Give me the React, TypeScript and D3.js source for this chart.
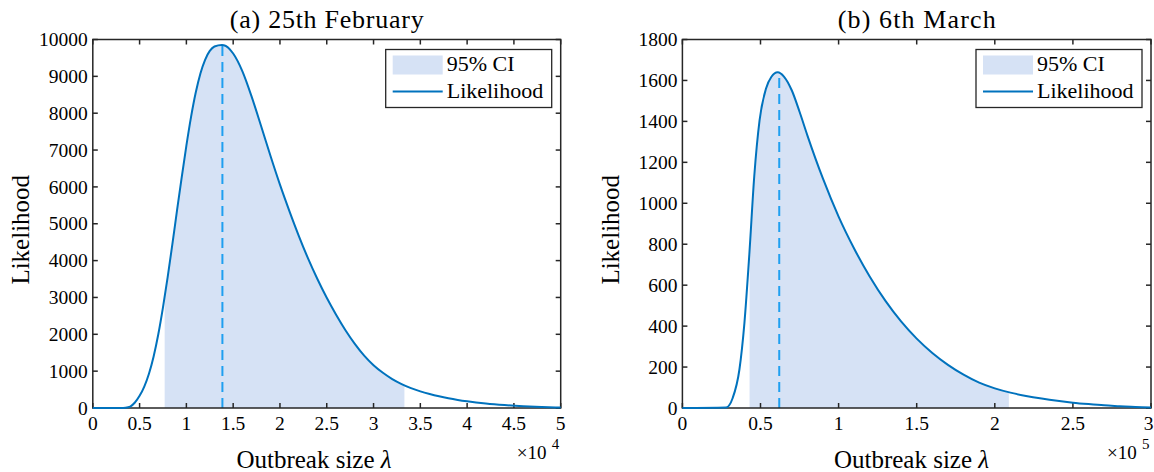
import React from "react";
import * as d3 from "d3";

// ---------- Data ----------
// Panel (a): outbreak size λ in units of 10^4
const leftLambda = [0, 0.3, 0.35, 0.4, 0.45, 0.5, 0.55, 0.6, 0.65, 0.7, 0.75, 0.8, 0.85, 0.9, 0.95, 1.0, 1.05, 1.1, 1.15, 1.2, 1.25, 1.3, 1.38, 1.4, 1.5, 1.6, 1.7, 1.8, 1.9, 2.0, 2.1, 2.2, 2.3, 2.4, 2.5, 2.6, 2.7, 2.8, 2.9, 3.0, 3.1, 3.2, 3.3, 3.4, 3.5, 3.6, 3.7, 3.8, 3.9, 4.0, 4.2, 4.4, 4.6, 4.8, 5.0];
const leftLikelihood = [0, 0, 8, 40, 150, 330, 580, 930, 1400, 2000, 2730, 3550, 4440, 5360, 6260, 7120, 7900, 8560, 9080, 9450, 9690, 9810, 9850, 9845, 9620, 9130, 8430, 7640, 6830, 6060, 5350, 4680, 4060, 3500, 2990, 2530, 2110, 1740, 1420, 1160, 955, 785, 650, 540, 452, 380, 318, 265, 220, 182, 122, 80, 50, 28, 12];
const leftCI = [0.768, 3.33];
const leftMLE = 1.385;
const leftXTicks = [0, 0.5, 1, 1.5, 2, 2.5, 3, 3.5, 4, 4.5, 5];
const leftYTicks = [0, 1000, 2000, 3000, 4000, 5000, 6000, 7000, 8000, 9000, 10000];

// Panel (b): outbreak size λ in units of 10^5
const rightLambda = [0, 0.28, 0.322, 0.365, 0.397, 0.429, 0.46, 0.494, 0.536, 0.57, 0.61, 0.65, 0.7, 0.75, 0.8, 0.9, 1.0, 1.1, 1.2, 1.3, 1.4, 1.5, 1.6, 1.7, 1.8, 1.9, 2.0, 2.1, 2.2, 2.3, 2.4, 2.5, 2.6, 2.7, 2.8, 2.9, 3.0];
const rightLikelihood = [0, 3, 49, 188, 415, 757, 1132, 1405, 1562, 1618, 1640, 1619, 1552, 1447, 1332, 1120, 935, 778, 641, 523, 423, 339, 269, 211, 163, 124, 96, 75, 59, 46, 35, 26, 19, 13, 9, 5, 3];
const rightCI = [0.43, 2.09];
const rightMLE = 0.62;
const rightXTicks = [0, 0.5, 1, 1.5, 2, 2.5, 3];
const rightYTicks = [0, 200, 400, 600, 800, 1000, 1200, 1400, 1600, 1800];

const legendLabels = ["95% CI", "Likelihood"];

// ---------- Styles ----------
const FONT = "'Liberation Serif', 'Times New Roman', serif";
const LINE = "#0072BD";
const FILL = "#d6e2f5";
const DASH = "#1f9ff0";
const AXIS = "#262626";
const W = 1154;

type PanelProps = {
  id: string;
  x0: number; x1: number; y0: number; y1: number;
  xs: number[]; ys: number[];
  ci: number[]; mle: number;
  xTicks: number[]; yTicks: number[];
  title: string; titleWidth: number; exponent: string;
  xLabelCx: number; yLabelX: number;
};

function Panel(p: PanelProps) {
  const x = d3.scaleLinear().domain([p.xTicks[0], p.xTicks[p.xTicks.length - 1]]).range([p.x0, p.x1]);
  const y = d3.scaleLinear().domain([p.yTicks[0], p.yTicks[p.yTicks.length - 1]]).range([p.y1, p.y0]);
  const pts: [number, number][] = p.xs.map((v, i) => [v, p.ys[i]]);
  const line = d3.line<[number, number]>().x(d => x(d[0])).y(d => y(d[1])).curve(d3.curveMonotoneX);
  const area = d3.area<[number, number]>().x(d => x(d[0])).y0(y(0)).y1(d => y(d[1])).curve(d3.curveMonotoneX);
  const peak = d3.max(p.ys) as number;
  const tl = 5;
  const cx = (p.x0 + p.x1) / 2;
  const cy = (p.y0 + p.y1) / 2;
  const lgX = p.x1 - 175;
  const lgY = p.y0 + 10;
  return (
    <g>
      <defs>
        <clipPath id={`ci-${p.id}`}>
          <rect x={x(p.ci[0])} y={p.y0} width={x(p.ci[1]) - x(p.ci[0])} height={p.y1 - p.y0} />
        </clipPath>
      </defs>
      <path d={area(pts) || ""} fill={FILL} clipPath={`url(#ci-${p.id})`} />
      <line x1={x(p.mle)} x2={x(p.mle)} y1={y(0)} y2={y(peak)} stroke={DASH} strokeWidth={2} strokeDasharray="10 6" />
      {/* axes box */}
      <rect x={p.x0} y={p.y0} width={p.x1 - p.x0} height={p.y1 - p.y0} fill="none" stroke={AXIS} strokeWidth={1.5} />
      {p.xTicks.map(t => (
        <g key={`xt${t}`}>
          <line x1={x(t)} x2={x(t)} y1={p.y1} y2={p.y1 - tl} stroke={AXIS} strokeWidth={1.5} />
          <line x1={x(t)} x2={x(t)} y1={p.y0} y2={p.y0 + tl} stroke={AXIS} strokeWidth={1.5} />
          <text x={Math.min(x(t), W - 5.5)} y={p.y1 + 22} textAnchor="middle" fontSize={19.5} fontFamily={FONT} fill="#000">{String(t)}</text>
        </g>
      ))}
      {p.yTicks.map(t => (
        <g key={`yt${t}`}>
          <line x1={p.x0} x2={p.x0 + tl} y1={y(t)} y2={y(t)} stroke={AXIS} strokeWidth={1.5} />
          <line x1={p.x1} x2={p.x1 - tl} y1={y(t)} y2={y(t)} stroke={AXIS} strokeWidth={1.5} />
          <text x={p.x0 - 5} y={y(t) + 6.7} textAnchor="end" fontSize={19.5} fontFamily={FONT} fill="#000">{String(t)}</text>
        </g>
      ))}
      <path d={line(pts) || ""} fill="none" stroke={LINE} strokeWidth={2} />
      {/* exponent */}
      <text x={p.x1 - 44} y={p.y1 + 51} fontSize={19} fontFamily={FONT} fill="#000">×10</text>
      <text x={p.x1 - 9} y={p.y1 + 41} fontSize={15} fontFamily={FONT} fill="#000">{p.exponent}</text>
      {/* labels */}
      <text x={p.xLabelCx} y={p.y1 + 60} textAnchor="middle" fontSize={25} fontFamily={FONT} fill="#000">
        Outbreak size <tspan fontStyle="italic">λ</tspan>
      </text>
      <text transform={`translate(${p.yLabelX},${cy + 6}) rotate(-90)`} textAnchor="middle" fontSize={25} fontFamily={FONT} fill="#000">Likelihood</text>
      <text x={cx} y={p.y0 - 12} textAnchor="middle" fontSize={26} textLength={p.titleWidth} lengthAdjust="spacing" fontFamily={FONT} fill="#000">{p.title}</text>
      {/* legend */}
      <rect x={lgX} y={lgY} width={166} height={58} fill="#fff" stroke={AXIS} strokeWidth={1.3} />
      <rect x={lgX + 7} y={lgY + 6} width={50} height={19} fill={FILL} />
      <line x1={lgX + 7} x2={lgX + 57} y1={lgY + 42} y2={lgY + 42} stroke={LINE} strokeWidth={2} />
      <text x={lgX + 61} y={lgY + 21} fontSize={22} fontFamily={FONT} fill="#000">{legendLabels[0]}</text>
      <text x={lgX + 61} y={lgY + 48} fontSize={22} fontFamily={FONT} fill="#000">{legendLabels[1]}</text>
    </g>
  );
}

export default function App() {
  return (
    <svg width={W} height={472} style={{ position: "absolute", left: 0, top: 0, background: "#fff" }}>
      <rect width={W} height={472} fill="#fff" />
      <Panel id="a" x0={92.8} x1={560.7} y0={39.5} y1={408} xs={leftLambda} ys={leftLikelihood}
        ci={leftCI} mle={leftMLE} xTicks={leftXTicks} yTicks={leftYTicks}
        title="(a) 25th February" titleWidth={194} exponent="4" xLabelCx={314} yLabelX={28.5} />
      <Panel id="b" x0={682.4} x1={1151} y0={39.5} y1={408} xs={rightLambda} ys={rightLikelihood}
        ci={rightCI} mle={rightMLE} xTicks={rightXTicks} yTicks={rightYTicks}
        title="(b) 6th March" titleWidth={158} exponent="5" xLabelCx={911.5} yLabelX={619} />
    </svg>
  );
}
